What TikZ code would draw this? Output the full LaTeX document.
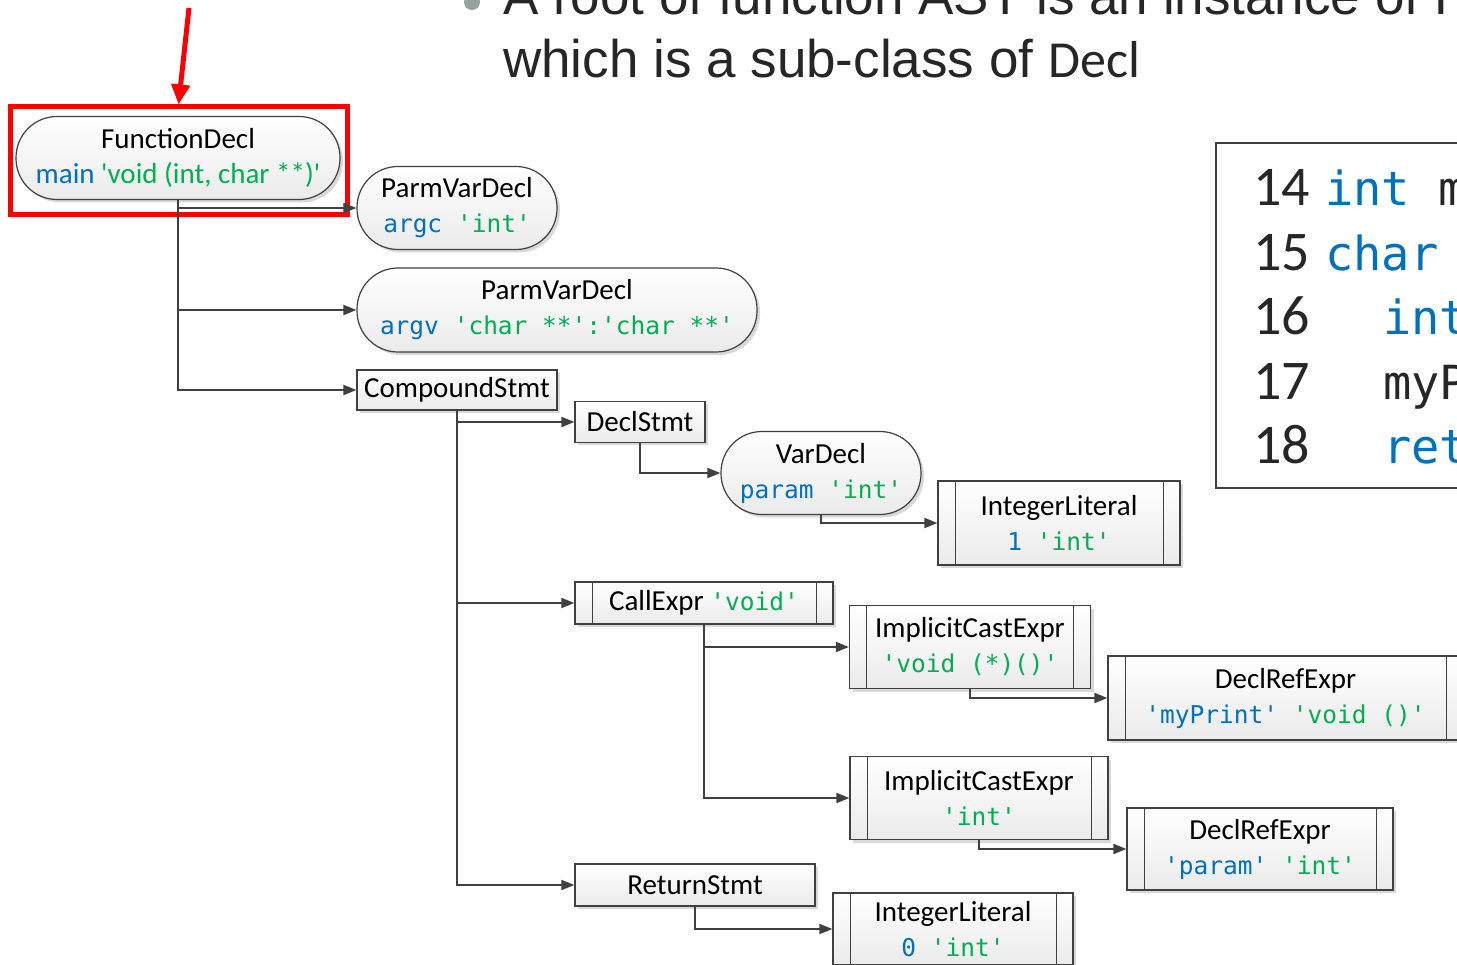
\documentclass[tikz,border=0pt]{standalone}
\usepackage{fontspec}
\setmainfont[Ligatures=TeXOff]{Carlito}
\newfontfamily\codefont[Ligatures=TeXOff]{DejaVu Sans Mono}
\newfontfamily\titlefont{Liberation Sans}
\usetikzlibrary{arrows.meta}
\usetikzlibrary{shadows}
\definecolor{idblue}{HTML}{0070C0}
\definecolor{tygreen}{HTML}{00B050}
\definecolor{edgegray}{HTML}{404040}
\definecolor{inkgray}{HTML}{262626}
\definecolor{dotgray}{HTML}{95A39C}
\newcommand{\monotext}[1]{{\codefont\fontsize{24.5}{35}\selectfont #1}}
\newcommand{\ident}[1]{\textcolor{idblue}{#1}}
\newcommand{\ctype}[1]{\textcolor{tygreen}{#1}}

\begin{document}
\begin{tikzpicture}[x=1pt,y=-1pt,
    boxbase/.style={draw=edgegray, line width=1.2pt, top color=white, bottom color=black!8,
      drop shadow={shadow xshift=3pt, shadow yshift=-3pt, fill=black, opacity=0.15},
      inner sep=0pt, align=center, text=black, font=\fontsize{29}{35}\selectfont},
    pill/.style={boxbase, rounded corners=41pt},
    plainbox/.style={boxbase},
    procbox/.style={boxbase, path picture={
      \draw[edgegray, line width=1pt] ([xshift=17pt]path picture bounding box.north west) -- ([xshift=17pt]path picture bounding box.south west);
      \draw[edgegray, line width=1pt] ([xshift=-17pt]path picture bounding box.north east) -- ([xshift=-17pt]path picture bounding box.south east);}},
    link/.style={draw=edgegray, line width=1.8pt, -{Triangle[length=13pt,width=10pt]}},
    hilite/.style={draw=red, line width=5pt, inner sep=0pt},
    pointer/.style={draw=red, line width=5pt, -{Triangle[length=20pt,width=18pt]}},
    codeline/.style={anchor=base west, inner sep=0pt, text=inkgray}]
    \useasboundingbox (0,0) rectangle (1457,965);

    % title of the slide
    \fill[dotgray] (472,2) circle (8);
    \node[anchor=base west, inner sep=0pt, text=inkgray, font=\titlefont\fontsize{53}{60}\selectfont] (title1) at (503,15) {A root of function AST is an instance of FunctionDecl,};
    \node[anchor=base west, inner sep=0pt, text=inkgray] (title2) at (503,78) {{\titlefont\fontsize{53}{60}\selectfont which is a sub-class of }{\fontsize{52}{60}\selectfont Decl}};

    % source code
    \draw[edgegray, line width=2.5pt, fill=white] (1216,143) rectangle (1490,488);
    \node[codeline, font=\fontsize{56}{64}\selectfont] (n14) at (1253,206) {14};
    \node[codeline, font=\fontsize{56}{64}\selectfont] (n15) at (1253,270.5) {15};
    \node[codeline, font=\fontsize{56}{64}\selectfont] (n16) at (1253,335) {16};
    \node[codeline, font=\fontsize{56}{64}\selectfont] (n17) at (1253,399.5) {17};
    \node[codeline, font=\fontsize{56}{64}\selectfont] (n18) at (1253,464) {18};
    \node[codeline, font=\codefont\fontsize{47}{60}\selectfont] (c14) at (1325,206) {\ident{int} main(\ident{int} argc,};
    \node[codeline, font=\codefont\fontsize{47}{60}\selectfont] (c15) at (1325,270.5) {\ident{char} **argv) \{};
    \node[codeline, font=\codefont\fontsize{47}{60}\selectfont] (c16) at (1383,335) {\ident{int} param = 1;};
    \node[codeline, font=\codefont\fontsize{47}{60}\selectfont] (c17) at (1383,399.5) {myPrint(param);};
    \node[codeline, font=\codefont\fontsize{47}{60}\selectfont] (c18) at (1383,464) {\ident{return} 0;};

    % the highlighted root
    \node[hilite, minimum width=337, minimum height=108] (mark) at (178.5,161) {};
    \coordinate (ptr) at (189,8);
    \draw[pointer] (ptr) -- (mark.north);

    % AST nodes
    \node[pill, minimum width=324, minimum height=83] (fdecl) at (178,158) {FunctionDecl\\\ident{main} \ctype{'void (int, char **)'}};
    \node[pill, minimum width=200, minimum height=83] (argc) at (457,208) {ParmVarDecl\\\monotext{\ident{argc} \ctype{'int'}}};
    \node[pill, minimum width=400, minimum height=84] (argv) at (557,310) {ParmVarDecl\\\monotext{\ident{argv} \ctype{'char **':'char **'}}};
    \node[plainbox, minimum width=200, minimum height=40] (cmpd) at (457,390) {CompoundStmt};
    \node[plainbox, minimum width=130, minimum height=41] (dstmt) at (640,422) {DeclStmt};
    \node[pill, minimum width=200, minimum height=83] (vdecl) at (821,473) {VarDecl\\\monotext{\ident{param} \ctype{'int'}}};
    \node[procbox, minimum width=242, minimum height=84] (ilit1) at (1059,523) {IntegerLiteral\\\monotext{\ident{1} \ctype{'int'}}};
    \node[procbox, minimum width=258, minimum height=42] (call) at (704,603) {CallExpr \monotext{\ctype{'void'}}};
    \node[procbox, minimum width=241, minimum height=83] (icast1) at (970,647) {ImplicitCastExpr\\\monotext{\ctype{'void (*)()'}}};
    \node[procbox, minimum width=355, minimum height=84] (dref1) at (1285.5,698) {DeclRefExpr\\\monotext{\ident{'myPrint'} \ctype{'void ()'}}};
    \node[procbox, minimum width=258, minimum height=83] (icast2) at (979,798) {ImplicitCastExpr\\\monotext{\ctype{'int'}}};
    \node[procbox, minimum width=266, minimum height=82] (dref2) at (1260,849) {DeclRefExpr\\\monotext{\ident{'param'} \ctype{'int'}}};
    \node[plainbox, minimum width=240, minimum height=42] (ret) at (695,885) {ReturnStmt};
    \node[procbox, minimum width=240, minimum height=72] (ilit0) at (953,929) {IntegerLiteral\\\monotext{\ident{0} \ctype{'int'}}};

    % edges of the tree
    \draw[link] (fdecl.south) |- (argc.west);
    \draw[link] (fdecl.south) |- (argv.west);
    \draw[link] (fdecl.south) |- (cmpd.west);
    \draw[link] (cmpd.south) |- (dstmt.west);
    \draw[link] (cmpd.south) |- (call.west);
    \draw[link] (cmpd.south) |- (ret.west);
    \draw[link] (dstmt.south) |- (vdecl.west);
    \draw[link] (vdecl.south) |- (ilit1.west);
    \draw[link] (call.south) |- (icast1.west);
    \draw[link] (call.south) |- (icast2.west);
    \draw[link] (icast1.south) |- (dref1.west);
    \draw[link] (icast2.south) |- (dref2.west);
    \draw[link] (ret.south) |- (ilit0.west);
\end{tikzpicture}
\end{document}
